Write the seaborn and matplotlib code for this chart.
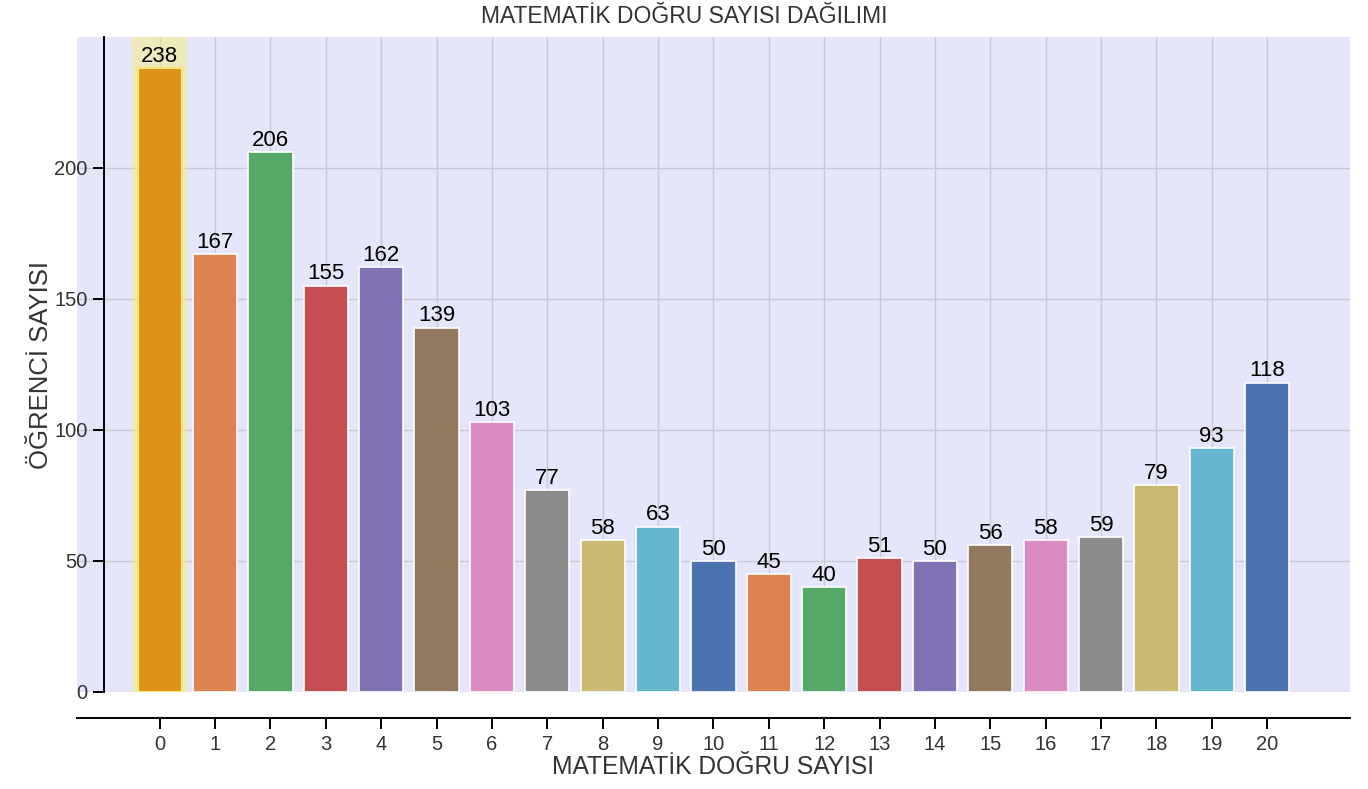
import seaborn as sns
import matplotlib.pyplot as plt
import pandas as pd

# number of correct answers in maths and how many students got each
dogru = list(range(21))
ogrenci = [238, 167, 206, 155, 162, 139, 103, 77, 58, 63, 50,
           45, 40, 51, 50, 56, 58, 59, 79, 93, 118]
tick_labels = [str(d) for d in dogru]

sns.set_theme(style="ticks", rc={"axes.facecolor": "lavender", "axes.grid": True,
                                 "grid.color": "#c9c9d6", "grid.linewidth": 1.0})
plt.rcParams['font.family'] = ['Liberation Sans', 'DejaVu Sans']

df = pd.DataFrame({'dogru': tick_labels, 'ogrenci': ogrenci})

fig, ax = plt.subplots(figsize=(13.68, 7.89), dpi=100)
fig.subplots_adjust(left=0.056, right=0.987, top=0.953, bottom=0.123)

palette = sns.color_palette("deep", 10)
colors = [palette[i % 10] for i in range(len(dogru))]

sns.barplot(data=df, x='dogru', y='ogrenci', hue='dogru', palette=colors, saturation=1,
            legend=False, width=0.8, edgecolor='white', linewidth=1.2, ax=ax, zorder=3)

# highlight the most frequent value
ax.axvspan(-0.5, 0.5, color='#fff34a', alpha=0.35, zorder=1, lw=0)
top = ax.patches[0]
top.set_facecolor('#e0931a')
top.set_edgecolor('#f5e97a')
top.set_linewidth(1.5)

for c in ax.containers:
    ax.bar_label(c, fontsize=16, padding=1, color='black')

ax.set_axisbelow(True)
ax.grid(True, axis='both')
ax.set_xlim(-1.5, 21.5)
ax.set_ylim(0, max(ogrenci) * 1.05)
ax.set_yticks([0, 50, 100, 150, 200])

sns.despine(ax=ax)
ax.spines['left'].set_position(('data', -1))
ax.spines['bottom'].set_position(('outward', 19))
for s in ['left', 'bottom']:
    ax.spines[s].set_color('black')
    ax.spines[s].set_linewidth(1.4)
ax.tick_params(axis='both', colors='black', labelcolor='#333333', labelsize=14.5,
               length=8, width=1.4, pad=4)

fig.suptitle('MATEMATİK DOĞRU SAYISI DAĞILIMI', fontsize=16.5, color='#333333', x=0.5, y=0.994)
ax.set_xlabel('MATEMATİK DOĞRU SAYISI', fontsize=17.7, color='#333333', labelpad=1)
ax.set_ylabel('ÖĞRENCİ SAYISI', fontsize=18.5, color='#333333', labelpad=1)

plt.savefig('out.png')
